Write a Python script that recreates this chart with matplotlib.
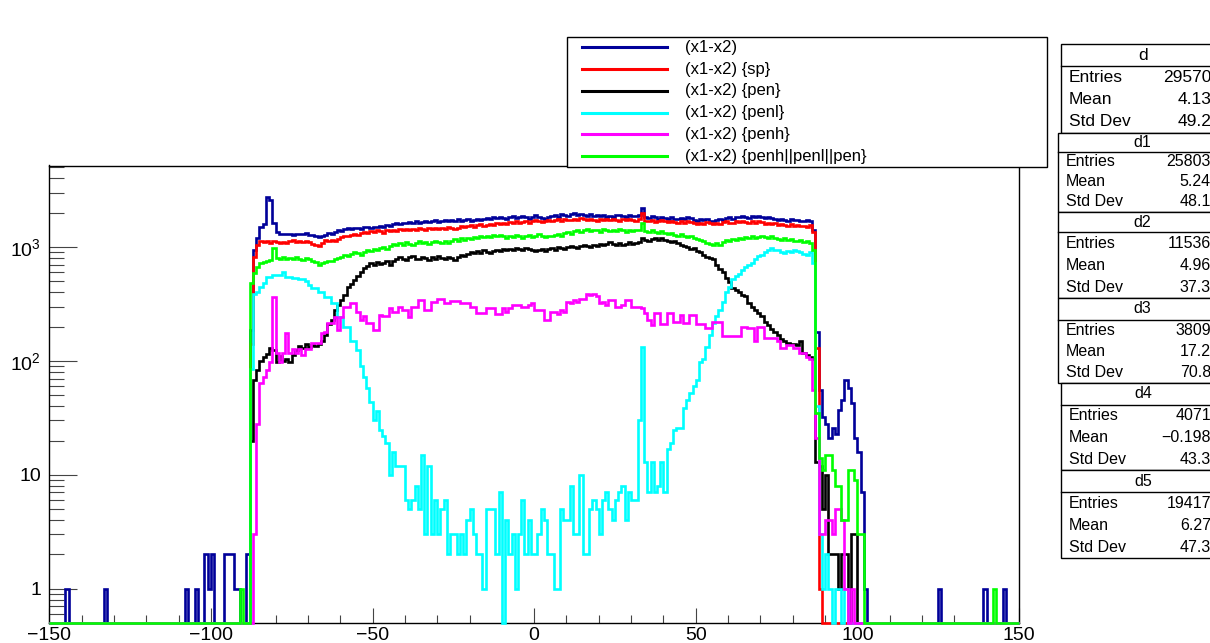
import numpy as np
import matplotlib
matplotlib.use("Agg")
import matplotlib.pyplot as plt
from matplotlib.patches import Rectangle
from matplotlib.lines import Line2D
from matplotlib.ticker import FixedLocator, LogLocator, MultipleLocator, NullFormatter

plt.rcParams['font.family'] = ['Liberation Sans', 'DejaVu Sans']
plt.rcParams['mathtext.fontset'] = 'custom'
plt.rcParams['mathtext.rm'] = 'Liberation Sans'

# 300 bins of width 1 between -150 and 150
x_lo, x_hi = -150, 150
body_start = -88   # low edge of the first bin in the *_body lists (they run up to x = 102)

# (x1-x2)
d_body = [
    187, 950, 1200, 1500, 1600, 2750, 2600, 1620, 1350, 1300,
    1310, 1290, 1300, 1280, 1310, 1290, 1300, 1320, 1280, 1270,
    1240, 1230, 1250, 1280, 1320, 1300, 1360, 1410, 1390, 1430,
    1460, 1440, 1480, 1470, 1430, 1490, 1500, 1460, 1510, 1490,
    1520, 1500, 1560, 1540, 1580, 1620, 1590, 1640, 1610, 1650,
    1620, 1680, 1640, 1660, 1700, 1650, 1690, 1720, 1660, 1700,
    1740, 1690, 1720, 1680, 1750, 1700, 1730, 1760, 1710, 1740,
    1780, 1720, 1760, 1800, 1750, 1830, 1790, 1840, 1800, 1760,
    1820, 1860, 1790, 1840, 1880, 1820, 1780, 1850, 1900, 1840,
    1800, 1760, 1830, 1870, 1900, 1850, 1950, 1900, 1880, 1940,
    1980, 1920, 1960, 1900, 1880, 1950, 1870, 1920, 1860, 1900,
    1850, 1880, 1830, 1900, 1920, 1870, 1850, 1900, 1880, 1860,
    1900, 2200, 1850, 1800, 1860, 1820, 1780, 1840, 1800, 1760,
    1820, 1780, 1750, 1800, 1760, 1820, 1790, 1740, 1700, 1760,
    1720, 1750, 1700, 1680, 1720, 1760, 1740, 1790, 1820, 1780,
    1850, 1820, 1880, 1840, 1800, 1860, 1830, 1880, 1820, 1790,
    1850, 1800, 1760, 1720, 1780, 1740, 1700, 1760, 1720, 1740,
    1700, 1680, 1720, 1700, 1400, 180, 56, 32, 28, 21,
    26, 23, 37, 45, 68, 58, 43, 21, 16, 7,
    1,
]

# (x1-x2) {sp}
d1_body = [
    140, 820, 1050, 1120, 1100, 1130, 1090, 1120, 1100, 1080,
    1110, 1090, 1120, 1150, 1100, 1130, 1110, 1140, 1100, 1060,
    1040, 1030, 1080, 1150, 1140, 1160, 1130, 1180, 1220, 1260,
    1240, 1280, 1300, 1270, 1320, 1350, 1330, 1380, 1350, 1400,
    1370, 1340, 1400, 1380, 1420, 1390, 1430, 1410, 1440, 1400,
    1450, 1420, 1460, 1430, 1410, 1460, 1440, 1470, 1430, 1480,
    1450, 1500, 1460, 1440, 1480, 1520, 1490, 1530, 1560, 1510,
    1550, 1580, 1530, 1570, 1600, 1560, 1620, 1580, 1640, 1600,
    1650, 1620, 1680, 1640, 1660, 1700, 1640, 1680, 1720, 1690,
    1660, 1700, 1740, 1680, 1720, 1760, 1700, 1780, 1740, 1720,
    1780, 1740, 1800, 1760, 1720, 1780, 1740, 1700, 1760, 1720,
    1750, 1720, 1780, 1740, 1700, 1760, 1720, 1780, 1740, 1700,
    1760, 2000, 1700, 1680, 1720, 1660, 1700, 1740, 1680, 1650,
    1700, 1660, 1620, 1680, 1640, 1700, 1650, 1620, 1600, 1640,
    1600, 1660, 1620, 1580, 1640, 1600, 1650, 1680, 1640, 1620,
    1680, 1650, 1700, 1660, 1620, 1680, 1640, 1700, 1650, 1600,
    1640, 1590, 1620, 1560, 1600, 1570, 1540, 1580, 1530, 1560,
    1520, 1540, 1500, 1560, 1350, 130, 1, 0, 0, 0,
    0, 0, 0, 0, 0, 0, 0, 0, 0, 0,
    0,
]

# (x1-x2) {pen}
d2_body = [
    20, 68, 83, 100, 108, 115, 130, 125, 98, 110,
    100, 105, 98, 112, 125, 135, 130, 140, 132, 138,
    135, 142, 150, 170, 210, 230, 280, 310, 345, 380,
    445, 470, 515, 560, 600, 650, 680, 720, 700, 740,
    710, 730, 760, 700, 750, 780, 820, 790, 770, 810,
    830, 790, 780, 820, 800, 770, 810, 790, 830, 800,
    780, 820, 800, 770, 810, 850, 830, 870, 900, 880,
    920, 890, 940, 910, 880, 930, 950, 920, 960, 940,
    970, 950, 990, 960, 940, 980, 960, 940, 920, 950,
    960, 930, 960, 990, 950, 1000, 980, 960, 1000, 1030,
    1000, 980, 1020, 1050, 1030, 1010, 1050, 1030, 1070, 1040,
    1060, 1100, 1070, 1050, 1080, 1040, 1070, 1100, 1060, 1080,
    1100, 1200, 1150, 1140, 1180, 1200, 1160, 1190, 1150, 1120,
    1100, 1120, 1080, 1050, 1020, 1000, 960, 980, 920, 900,
    850, 820, 800, 790, 700, 640, 600, 540, 490, 440,
    420, 400, 380, 370, 320, 300, 280, 265, 250, 220,
    205, 190, 178, 170, 155, 150, 145, 140, 142, 138,
    150, 117, 112, 108, 105, 13, 12, 5, 10, 2,
    2, 2, 1, 2, 2, 0, 3, 3, 0, 0,
    0,
]

# (x1-x2) {penl}
d3_body = [
    85, 390, 400, 450, 480, 545, 545, 570, 570, 570,
    600, 545, 545, 540, 540, 520, 520, 500, 460, 440,
    440, 400, 400, 365, 365, 320, 320, 245, 245, 200,
    200, 150, 150, 125, 90, 73, 58, 44, 30, 36,
    25, 22, 19, 10, 16, 12, 12, 12, 6, 5,
    6, 8, 5, 15, 3, 12, 3, 6, 3, 5,
    6, 2, 3, 3, 2, 3, 2, 4, 5, 3,
    2, 2, 1, 5, 5, 5, 2, 7, 0, 4,
    2, 3, 1, 3, 6, 2, 4, 2, 2, 3,
    5, 4, 2, 2, 1, 1, 5, 4, 4, 8,
    3, 3, 10, 2, 2, 5, 6, 5, 3, 6,
    7, 5, 4, 6, 7, 8, 4, 7, 6, 6,
    30, 133, 13, 7, 13, 7, 8, 13, 7, 17,
    19, 25, 26, 26, 39, 45, 52, 60, 68, 98,
    105, 133, 170, 215, 250, 280, 330, 400, 450, 520,
    560, 580, 630, 670, 700, 720, 790, 830, 860, 900,
    940, 980, 950, 940, 900, 880, 920, 900, 940, 920,
    900, 870, 850, 900, 720, 40, 3, 1, 2, 1,
    0, 1, 1, 0, 1, 0, 0, 0, 0, 0,
    0,
]

# (x1-x2) {penh}
d4_body = [
    0, 3, 28, 64, 73, 83, 98, 365, 117, 98,
    117, 175, 117, 127, 117, 127, 112, 127, 127, 143,
    143, 143, 175, 180, 215, 215, 245, 187, 245, 300,
    300, 320, 320, 270, 230, 250, 215, 215, 187, 187,
    255, 250, 250, 290, 270, 270, 300, 280, 280, 245,
    300, 300, 340, 340, 280, 280, 330, 330, 350, 350,
    320, 320, 335, 335, 335, 320, 320, 320, 300, 300,
    265, 265, 265, 290, 290, 290, 260, 260, 290, 270,
    290, 310, 310, 310, 300, 300, 310, 320, 280, 280,
    280, 230, 230, 270, 270, 260, 280, 270, 330, 320,
    340, 330, 350, 350, 385, 380, 390, 370, 320, 330,
    310, 345, 345, 300, 300, 310, 345, 345, 300, 300,
    300, 290, 265, 230, 207, 265, 265, 210, 210, 265,
    265, 220, 220, 255, 215, 215, 255, 255, 210, 210,
    210, 195, 195, 220, 220, 220, 165, 165, 165, 165,
    165, 165, 200, 200, 195, 195, 150, 200, 200, 160,
    160, 160, 160, 150, 130, 130, 138, 138, 130, 130,
    117, 117, 108, 105, 56, 21, 3, 3, 4, 4,
    3, 5, 5, 4, 1, 0, 1, 0, 0, 0,
    0,
]

# (x1-x2) {penh||penl||pen}
d5_body = [
    480, 590, 670, 720, 740, 760, 770, 980, 800, 790,
    810, 790, 800, 780, 810, 790, 770, 800, 780, 760,
    740, 700, 720, 740, 760, 750, 780, 800, 820, 850,
    840, 870, 900, 880, 860, 900, 940, 920, 960, 940,
    980, 1000, 960, 1020, 1060, 1040, 1080, 1050, 1100, 1070,
    1040, 1090, 1120, 1080, 1100, 1060, 1110, 1140, 1100, 1080,
    1120, 1090, 1130, 1170, 1140, 1190, 1160, 1210, 1180, 1230,
    1200, 1240, 1220, 1260, 1230, 1280, 1250, 1270, 1240, 1210,
    1260, 1230, 1280, 1250, 1200, 1240, 1270, 1230, 1260, 1300,
    1250, 1220, 1260, 1240, 1280, 1300, 1260, 1320, 1350, 1300,
    1380, 1420, 1360, 1400, 1450, 1380, 1420, 1400, 1360, 1430,
    1400, 1370, 1420, 1380, 1440, 1400, 1360, 1420, 1380, 1400,
    1420, 1620, 1380, 1350, 1400, 1360, 1330, 1380, 1340, 1300,
    1330, 1280, 1250, 1300, 1260, 1220, 1240, 1200, 1170, 1150,
    1120, 1080, 1060, 1040, 1080, 1050, 1100, 1150, 1120, 1180,
    1160, 1200, 1180, 1220, 1190, 1240, 1200, 1230, 1260, 1220,
    1200, 1250, 1210, 1180, 1160, 1200, 1150, 1180, 1140, 1120,
    1150, 1100, 1130, 1080, 940, 35, 14, 11, 15, 15,
    11, 8, 8, 4, 4, 11, 11, 9, 3, 3,
    0,
]

# isolated entries away from the main body: {bin low edge: count}
d_extra = {-145: 1, -133: 1, -108: 1, -105: 1, -102: 2, -101: 1, -100: 2,
           -96: 2, -95: 2, -94: 2, -93: 1, -92: 1, -89: 2,
           125: 1, 139: 1, 145: 1}
d5_extra = {-91: 1, 142: 1}

names = ['d', 'd1', 'd2', 'd3', 'd4', 'd5']
labels = ['(x1-x2)', '(x1-x2) {sp}', '(x1-x2) {pen}', '(x1-x2) {penl}',
          '(x1-x2) {penh}', '(x1-x2) {penh||penl||pen}']
colors = ['#000099', '#ff0000', '#000000', '#00ffff', '#ff00ff', '#00ff00']
entries = ['29570', '25803', '11536', '3809', '4071', '19417']
means = ['4.13', '5.24', '4.96', '17.2', '\u22120.198', '6.27']
std_devs = ['49.2', '48.1', '37.3', '70.8', '43.3', '47.3']

edges = np.arange(x_lo, x_hi + 1)


def fill(body, extra=None):
    counts = np.zeros(len(edges) - 1)
    i0 = body_start - x_lo
    counts[i0:i0 + len(body)] = body
    for x, n in (extra or {}).items():
        counts[x - x_lo] = n
    return counts


hists = [fill(d_body, d_extra), fill(d1_body), fill(d2_body),
         fill(d3_body), fill(d4_body), fill(d5_body, d5_extra)]

W, H = 1210, 643
fig = plt.figure(figsize=(W / 100, H / 100), dpi=100)


def fx(px):
    return px / W


def fy(py):
    return 1 - py / H


ax = fig.add_axes([fx(49.3), fy(623), fx(1019) - fx(49.3), fy(165.5) - fy(623)])

ymin, ymax = 0.5, 5200
for counts, col in zip(hists, colors):
    # empty bins are drawn along the bottom of the frame
    ax.stairs(np.clip(counts, ymin, None), edges, baseline=ymin,
              color=col, lw=1.9, zorder=3, clip_on=False)

ax.set_yscale('log')
ax.set_xlim(x_lo, x_hi)
ax.set_ylim(ymin, ymax)

ax.xaxis.set_major_locator(MultipleLocator(50))
ax.xaxis.set_minor_locator(MultipleLocator(10))
ax.yaxis.set_major_locator(FixedLocator([1, 10, 100, 1000]))
ax.yaxis.set_minor_locator(LogLocator(base=10, subs=np.arange(2, 10), numticks=30))
ax.yaxis.set_minor_formatter(NullFormatter())
ax.set_yticklabels(['1', '10', r'$\mathregular{10^{2}}$', r'$\mathregular{10^{3}}$'])

ax.tick_params(which='both', direction='in', color='#444444', width=0.8)
ax.tick_params(axis='x', which='major', length=10.5, labelsize=14, pad=3)
ax.tick_params(axis='x', which='minor', length=5.5)
ax.tick_params(axis='y', which='major', length=20.5, labelsize=14, pad=6)
ax.tick_params(axis='y', which='minor', length=10.5)
for sp in ax.spines.values():
    sp.set_linewidth(1.0)
    sp.set_color('black')

# legend box above the frame
fig.add_artist(Rectangle((fx(567), fy(167)), fx(1047) - fx(567), fy(37) - fy(167),
                         transform=fig.transFigure, facecolor='white',
                         edgecolor='black', lw=1.0))
for i, (lab, col) in enumerate(zip(labels, colors)):
    yy = fy(47.3 + 21.75 * i)
    fig.add_artist(Line2D([fx(582), fx(667)], [yy, yy], transform=fig.transFigure,
                          color=col, lw=2.2))
    fig.text(fx(685), yy, lab, fontsize=12, va='center', ha='left')

# statistics boxes, one per histogram
box_left = [1061, 1058, 1058, 1058, 1061, 1061]
box_top = [44, 133, 212, 298, 383, 470]
box_sep = [66, 152, 232, 320, 405, 492]
box_bottom = [133, 212, 298, 383, 470, 558]
box_right = 1226
for i, name in enumerate(names):
    l, t, s, b = box_left[i], box_top[i], box_sep[i], box_bottom[i]
    fs = 12.5 if i == 0 else 11.5
    fig.add_artist(Rectangle((fx(l), fy(b)), fx(box_right) - fx(l), fy(t) - fy(b),
                             transform=fig.transFigure, facecolor='white',
                             edgecolor='black', lw=1.0))
    fig.add_artist(Line2D([fx(l), fx(box_right)], [fy(s), fy(s)],
                          transform=fig.transFigure, color='black', lw=1.0))
    fig.text(fx((l + box_right) / 2), fy((t + s) / 2), name, fontsize=fs,
             ha='center', va='center')
    rows = [('Entries', entries[i]), ('Mean', means[i]), ('Std Dev', std_devs[i])]
    for j, (key, val) in enumerate(rows):
        yy = fy(s + (b - s) * (j + 0.5) / 3)
        fig.text(fx(l + 8), yy, key, fontsize=fs, ha='left', va='center')
        fig.text(fx(1211), yy, val, fontsize=fs, ha='right', va='center')

fig.savefig('out.png', dpi=100)
